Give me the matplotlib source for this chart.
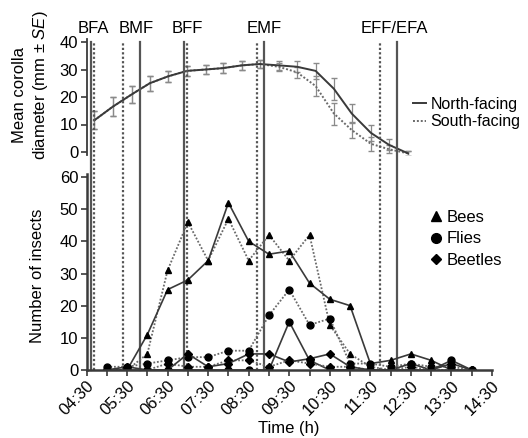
import numpy as np
import matplotlib
matplotlib.use('Agg')
import matplotlib.pyplot as plt
from matplotlib.lines import Line2D

plt.rcParams['font.family'] = ['Liberation Sans', 'DejaVu Sans']
plt.rcParams['mathtext.fontset'] = 'custom'
plt.rcParams['mathtext.it'] = 'Liberation Sans:italic'
plt.rcParams['mathtext.rm'] = 'Liberation Sans'

# corolla diameter (top panel)
cor_t = [4.69, 5.15, 5.62, 6.06, 6.51, 6.98, 7.44, 7.86, 8.33, 8.77,
         9.24, 9.69, 10.15, 10.6, 11.04, 11.51, 11.96, 12.43]
cor_north = [11.5, 16.5, 21, 25, 27.5, 29.5, 30, 30.5, 31.5, 32,
             31.5, 31, 29.5, 23, 14, 7, 2.6, -0.5]
cor_south = [11.5, 16.5, 21, 25, 27.5, 29.5, 30, 30.5, 31.5, 32,
             31, 29, 24, 14, 8, 3, 1, -0.5]
err_north = [3.3, 3.5, 3, 2.8, 2, 1.8, 1.8, 1.8, 1.5, 1.5, 1.5, 2, 3, 4, 3.5, 3, 2, 1]
err_south = [3.3, 3.5, 3, 2.8, 2, 1.8, 1.8, 1.8, 1.5, 1.5, 1.5, 2, 3.5, 4, 3, 2.5, 1.5, 1]

# insect counts (bottom panel)
times = [5.0, 5.5, 6.0, 6.5, 7.0, 7.5, 8.0, 8.5, 9.0, 9.5,
         10.0, 10.5, 11.0, 11.5, 12.0, 12.5, 13.0, 13.5, 14.0]
bees_n = [0, 0, 11, 25, 28, 34, 52, 40, 36, 37, 27, 22, 20, 2, 3, 5, 3, 0, 0]
bees_s = [0, 0, 5, 31, 46, 34, 47, 34, 42, 34, 42, 14, 5, 1, 0, 0, 0, 0, 0]
flies_n = [0, 0, 0, 0, 0, 0, 0, 0, 0, 15, 3, 0, 0, 0, 0, 2, 0, 3, 0]
flies_s = [1, 1, 2, 3, 4, 4, 6, 6, 17, 25, 14, 16, 2, 2, 1, 2, 1, 1, 0]
beetles_n = [0, 1, 0, 0, 5, 1, 2, 5, 5, 2.5, 3.5, 5, 1, 0, 0, 0, 0, 2, 0]
beetles_s = [0, 0, 0, 2, 1, 1, 3, 3, 1, 3, 2, 1, 1, 0, 0, 1, 0, 0, 0]

# phenophase markers: (time, solid?)
phase_lines = [(4.60, True), (4.69, False), (5.40, False), (5.82, True),
               (6.90, True), (6.98, False), (8.70, False), (8.87, True),
               (11.73, False), (12.15, True)]
phase_labels = ['BFA', 'BMF', 'BFF', 'EMF', 'EFF/EFA']
phase_label_x = [4.66, 5.73, 6.99, 8.89, 12.1]

tick_pos = [4.5, 5.5, 6.5, 7.5, 8.5, 9.5, 10.5, 11.5, 12.5, 13.5, 14.5]
tick_lab = ['04:30', '05:30', '06:30', '07:30', '08:30', '09:30',
            '10:30', '11:30', '12:30', '13:30', '14:30']

fig = plt.figure(figsize=(5.28, 4.38), dpi=100)
W, H = 528.0, 438.0
x0, x1 = 86.5, 492.0

ax1 = fig.add_axes([x0 / W, (H - 154.75) / H, (x1 - x0) / W, 115.5 / H])
ax2 = fig.add_axes([x0 / W, (H - 370) / H, (x1 - x0) / W, 196.2 / H])

dark = '#3a3a3a'
grey = '#6a6a6a'

# top panel
ax1.errorbar(cor_t, cor_south, yerr=err_south, color=grey, ls=(0, (1, 1)), lw=1.4,
             ecolor='#8a8a8a', elinewidth=0.9, capsize=2)
ax1.errorbar(cor_t, cor_north, yerr=err_north, color=dark, ls='-', lw=1.4,
             ecolor='#8a8a8a', elinewidth=0.9, capsize=2)
ax1.set_xlim(4.5, 14.5)
ax1.set_ylim(-1, 41)
ax1.set_yticks([0, 10, 20, 30, 40])
ax1.set_xticks([])
for s in ['top', 'right', 'bottom']:
    ax1.spines[s].set_visible(False)
ax1.spines['left'].set_color(dark)
ax1.spines['left'].set_linewidth(1.3)
ax1.tick_params(axis='y', labelsize=12, color=dark, length=4, width=1.2, pad=2)

h1 = [Line2D([], [], color=dark, lw=1.4), Line2D([], [], color=grey, lw=1.4, ls=(0, (1, 1)))]
ax1.legend(h1, ['North-facing', 'South-facing'], loc='center left',
           bbox_to_anchor=(0.805, 0.36), frameon=False, fontsize=11.5,
           handlelength=0.8, handletextpad=0.3, labelspacing=0.15, borderpad=0,
           borderaxespad=0)

# bottom panel
ms = 5
ax2.plot(times, bees_s, color=grey, ls=(0, (1, 1)), lw=1.3, marker='^', ms=ms, mfc='k', mec='k')
ax2.plot(times, bees_n, color=dark, ls='-', lw=1.2, marker='^', ms=ms, mfc='k', mec='k')
ax2.plot(times, flies_s, color=grey, ls=(0, (1, 1)), lw=1.3, marker='o', ms=ms, mfc='k', mec='k')
ax2.plot(times, flies_n, color=dark, ls='-', lw=1.2, marker='o', ms=ms, mfc='k', mec='k')
ax2.plot(times, beetles_s, color=grey, ls=(0, (1, 1)), lw=1.3, marker='D', ms=4, mfc='k', mec='k')
ax2.plot(times, beetles_n, color=dark, ls='-', lw=1.2, marker='D', ms=4, mfc='k', mec='k')

ax2.set_xlim(4.5, 14.5)
ax2.set_ylim(0, 61)
ax2.set_yticks([0, 10, 20, 30, 40, 50, 60])
ax2.set_xticks(tick_pos)
ax2.set_xticklabels(tick_lab, rotation=45, ha='right', rotation_mode='anchor')
ax2.set_xticks(times, minor=True)
for s in ['top', 'right']:
    ax2.spines[s].set_visible(False)
for s in ['left', 'bottom']:
    ax2.spines[s].set_color(dark)
    ax2.spines[s].set_linewidth(1.8)
ax2.tick_params(axis='both', labelsize=12, color=dark, length=4, width=1.2, pad=2)
ax2.tick_params(axis='x', which='minor', color=dark, length=4, width=1.2)
ax2.set_xlabel('Time (h)', fontsize=12, labelpad=2)

h2 = [Line2D([], [], ls='', marker='^', color='k', ms=7),
      Line2D([], [], ls='', marker='o', color='k', ms=7),
      Line2D([], [], ls='', marker='D', color='k', ms=5)]
ax2.legend(h2, ['Bees', 'Flies', 'Beetles'], loc='upper left',
           bbox_to_anchor=(0.85, 0.815), frameon=False, fontsize=12,
           handlelength=0.6, handletextpad=0.3, labelspacing=0.38, borderpad=0,
           borderaxespad=0)

# phase lines across both panels
top_frac = (370 - 42) / 196.2
for t, solid in phase_lines:
    if solid:
        ax2.axvline(t, ymin=0, ymax=top_frac, color='#555555', lw=1.6, clip_on=False, zorder=1)
    else:
        ax2.axvline(t, ymin=0, ymax=top_frac, color='#555555', lw=1.6, ls=(0, (1, 1)),
                    clip_on=False, zorder=1)

for lab, xl in zip(phase_labels, phase_label_x):
    ax1.text(xl, 42.3, lab, ha='center', va='bottom', fontsize=12)

fig.text(20 / W, 1 - 95 / H, 'Mean corolla', rotation=90, ha='center', va='center', fontsize=12)
fig.text(41 / W, 1 - 85 / H, r'diameter (mm ± $\it{SE}$)', rotation=90, ha='center',
         va='center', fontsize=12)
fig.text(38 / W, 1 - 276 / H, 'Number of insects', rotation=90, ha='center', va='center',
         fontsize=12)

plt.savefig('out.png', dpi=100)
